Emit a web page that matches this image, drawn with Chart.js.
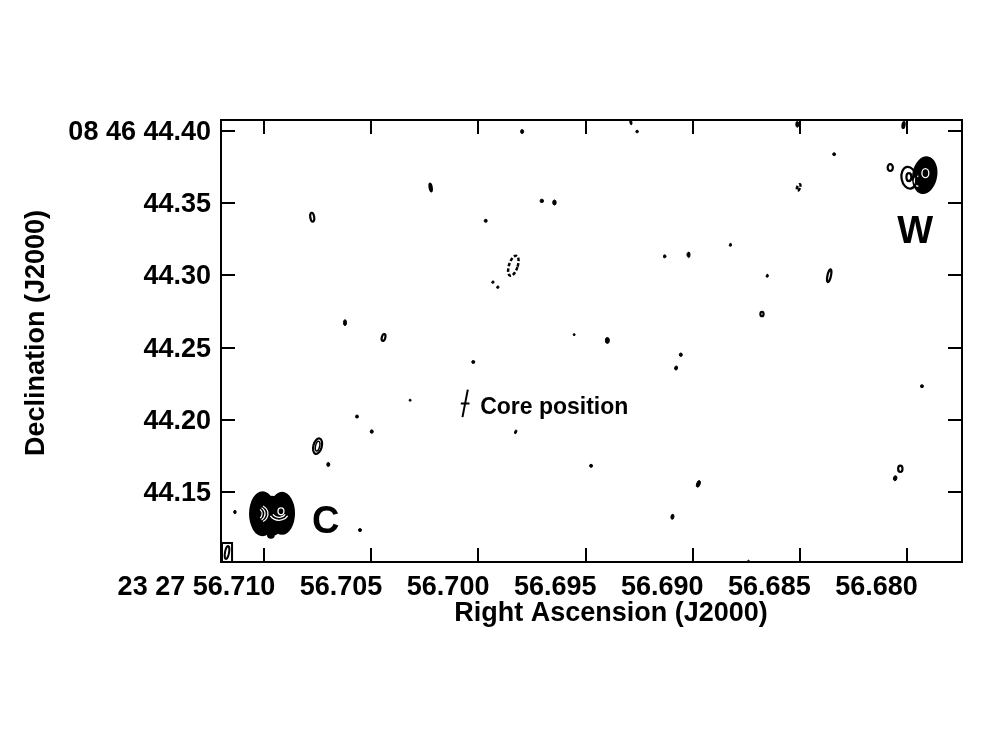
<!DOCTYPE html>
<html>
<head>
<meta charset="utf-8">
<script src="https://cdn.jsdelivr.net/npm/chart.js@4.4.1/dist/chart.umd.min.js"></script>
<style>
  html, body { margin: 0; padding: 0; background: #fff; }
  canvas { display: block; }
</style>
</head>
<body>
<canvas id="map" width="981" height="736"></canvas>
<script>
// axis ticks (RA in seconds of time after 23h27m, Dec in arcsec after +08d46m)
const raTicks = [56.710, 56.705, 56.700, 56.695, 56.690, 56.685, 56.680];
const raTickLabels = ['23 27 56.710', '56.705', '56.700', '56.695', '56.690', '56.685', '56.680'];
const decTicks = [44.15, 44.20, 44.25, 44.30, 44.35, 44.40];
const decTickLabels = ['44.15', '44.20', '44.25', '44.30', '44.35', '08 46 44.40'];
const raRange = [56.67742, 56.71202];
const decRange = [44.1016, 44.4076];

// weak compact features: position, size (mas, major/minor), PA (deg), kind
const featRA  = [56.69288, 56.69259, 56.69796, 56.68511, 56.68015, 56.68339, 56.68077, 56.70223,
                 56.69704, 56.69645, 56.70776, 56.69966, 56.68505, 56.68824, 56.69131, 56.69019,
                 56.69837, 56.69933, 56.69910, 56.68652, 56.68362, 56.68676, 56.70623, 56.70443,
                 56.69553, 56.69398, 56.69055, 56.69077, 56.70024, 56.70319, 56.70567, 56.70498,
                 56.69826, 56.70751, 56.70701, 56.69474, 56.67929, 56.68030, 56.68054, 56.68973,
                 56.69094, 56.68739, 56.71137, 56.70553, 56.67990, 56.67990];
const featDec = [44.4060, 44.3996, 44.3996, 44.4046, 44.4041, 44.3839, 44.3747, 44.3609,
                 44.3516, 44.3505, 44.3403, 44.3378, 44.3609, 44.3212, 44.3132, 44.3143,
                 44.3067, 44.2954, 44.2919, 44.2998, 44.2998, 44.2733, 44.2673, 44.2570,
                 44.2590, 44.2550, 44.2451, 44.2359, 44.2401, 44.2136, 44.2023, 44.1919,
                 44.1917, 44.1818, 44.1691, 44.1682, 44.2233, 44.1661, 44.1596, 44.1557,
                 44.1329, 44.1018, 44.1362, 44.1237, 44.3676, 44.3680];
const featMaj = [3.5, 1.8, 2.8, 4.1, 5.5, 2.0, 6.2, 6.9,
                 2.4, 3.5, 7.6, 2.1, 6.2, 2.1, 2.1, 4.1,
                 15.8, 1.8, 1.8, 2.1, 10.4, 4.5, 4.1, 6.2,
                 1.4, 4.1, 2.4, 2.8, 2.1, 1.4, 2.1, 2.4,
                 2.8, 12.4, 2.8, 2.1, 2.1, 5.8, 3.5, 4.8,
                 3.5, 2.1, 2.4, 2.1, 16.6, 6.9];
const featMin = [1.4, 1.8, 2.1, 2.1, 2.8, 2.0, 5.0, 2.8,
                 2.4, 2.4, 4.1, 2.1, 3.4, 1.8, 2.1, 2.1,
                 7.4, 1.8, 1.8, 1.8, 3.8, 3.6, 2.1, 3.8,
                 1.4, 2.8, 2.1, 2.1, 2.1, 1.4, 2.1, 2.1,
                 1.4, 7.2, 2.1, 2.1, 2.1, 4.4, 2.4, 2.4,
                 2.1, 1.4, 1.7, 2.1, 11.6, 4.8];
const featPA  = [10, 0, 0, 0, -10, 0, 0, 10,
                 0, 0, 10, 0, -20, 0, 0, 0,
                 -18, 0, 0, 0, -12, 0, 0, -15,
                 0, 0, 0, -15, 0, 0, 0, 0,
                 -20, -15, 0, 0, 0, 0, -15, -20,
                 -10, 0, 0, 0, 10, 0];
const featKind = ['dot', 'dot', 'dot', 'dot', 'ring', 'dot', 'ring', 'ring',
                  'dot', 'dot', 'ring', 'dot', 'dash', 'dot', 'dot', 'dot',
                  'dash', 'dot', 'dot', 'dot', 'ring', 'ring', 'dot', 'ring',
                  'dot', 'dot', 'dot', 'dot', 'dot', 'dot', 'dot', 'dot',
                  'dot', 'ring2', 'dot', 'dot', 'dot', 'ring', 'dot', 'dot',
                  'dot', 'dot', 'dot', 'dot', 'ring', 'ring'];

// bright components C and W (solid contour stacks)
const compRA  = [56.71008, 56.70917, 56.70964, 56.70969, 56.67916];
const compDec = [44.1350, 44.1353, 44.1336, 44.1205, 44.3694];
const compMaj = [31.1, 29.7, 27.7, 5.5, 26.3];
const compMin = [18.7, 18.0, 19.4, 5.5, 17.3];
const compPA  = [0, 0, 0, 0, -10];

// gaps between the highest contour levels inside C and W
const gapRA   = [56.71029, 56.71029, 56.71029, 56.70922, 56.70931, 56.70931, 56.67913, 56.67946];
const gapDec  = [44.1350, 44.1350, 44.1350, 44.1367, 44.1367, 44.1367, 44.3708, 44.3652];
const gapMaj  = [6.9, 9.7, 12.4, 4.8, 8.3, 12.4, 6.2, 6.9];
const gapMin  = [5.5, 9.7, 13.8, 4.1, 9.7, 13.8, 4.8, 5.5];
const gapFrom = [-60, -60, -60, 0, 30, 30, 0, 90];
const gapTo   = [60, 60, 60, 360, 150, 150, 360, 270];

// core position with error bar (mas) and labels
const coreRA = 56.70062, coreDec = 44.2114, coreErrDec = 9.7, coreErrRA = 3.0, corePA = -11;
const labelText = ['C', 'W', 'Core position'];
const labelRA   = [56.70777, 56.68044, 56.69992];
const labelDec  = [44.1219, 44.3224, 44.2041];
const labelSize = [38, 38, 23];

// restoring beam (mas)
const beamMaj = 9.7, beamMin = 2.8, beamPA = -10;

const FONT = "'Liberation Sans', Arial, Helvetica, sans-serif";

function ellipsePath(ctx, cx, cy, rx, ry, pa, a0, a1) {
  ctx.ellipse(cx, cy, Math.max(rx, 0.5), Math.max(ry, 0.5), -pa * Math.PI / 180,
              (a0 || 0) * Math.PI / 180, (a1 === undefined ? 360 : a1) * Math.PI / 180);
}

const contourPlugin = {
  id: 'contours',
  afterDatasetsDraw(chart) {
    const { ctx, chartArea: a, scales: { x, y } } = chart;
    const mas = Math.abs(y.getPixelForValue(44.2) - y.getPixelForValue(44.201));
    ctx.save();
    ctx.beginPath();
    ctx.rect(a.left, a.top, a.right - a.left, a.bottom - a.top);
    ctx.clip();

    // solid components
    const cm = chart.getDatasetMeta(1).data;
    ctx.fillStyle = '#000';
    ctx.beginPath();
    cm.forEach((p, i) => {
      ctx.moveTo(p.x + 1, p.y);
      ellipsePath(ctx, p.x, p.y, compMin[i] * mas / 2, compMaj[i] * mas / 2, compPA[i]);
    });
    ctx.fill();

    // white gaps between inner levels
    const gm = chart.getDatasetMeta(2).data;
    ctx.strokeStyle = '#fff';
    ctx.lineWidth = 1.3;
    gm.forEach((p, i) => {
      ctx.beginPath();
      ellipsePath(ctx, p.x, p.y, gapMin[i] * mas / 2, gapMaj[i] * mas / 2, 0, gapFrom[i], gapTo[i]);
      ctx.stroke();
    });

    // weak features
    const fm = chart.getDatasetMeta(0).data;
    ctx.strokeStyle = '#000';
    ctx.fillStyle = '#000';
    fm.forEach((p, i) => {
      const rx = featMin[i] * mas / 2, ry = featMaj[i] * mas / 2, k = featKind[i];
      ctx.beginPath();
      if (k === 'dot') {
        ctx.lineWidth = 1;
        ellipsePath(ctx, p.x, p.y, rx, ry, featPA[i]);
        ctx.fill();
        ctx.stroke();
        return;
      }
      ctx.lineWidth = k === 'dash' ? 2.5 : 2.2;
      ctx.setLineDash(k === 'dash' ? [3.5, 2] : []);
      ellipsePath(ctx, p.x, p.y, rx - 1, ry - 1, featPA[i]);
      ctx.stroke();
      if (k === 'ring2') {
        ctx.beginPath();
        ctx.lineWidth = 1.5;
        ellipsePath(ctx, p.x, p.y, rx * 0.4, ry * 0.55, featPA[i]);
        ctx.stroke();
      }
    });
    ctx.setLineDash([]);

    // core position error bar
    const cx = x.getPixelForValue(coreRA), cy = y.getPixelForValue(coreDec);
    const t = -corePA * Math.PI / 180, L = coreErrDec * mas, W = coreErrRA * mas;
    ctx.lineWidth = 2;
    ctx.beginPath();
    ctx.moveTo(cx - Math.sin(t) * L, cy + Math.cos(t) * L);
    ctx.lineTo(cx + Math.sin(t) * L, cy - Math.cos(t) * L);
    ctx.moveTo(cx - W, cy);
    ctx.lineTo(cx + W, cy);
    ctx.stroke();

    // beam in lower left corner
    const bw = beamMin * mas + 6, bh = beamMaj * mas + 5;
    ctx.lineWidth = 2;
    ctx.strokeRect(a.left + 1, a.bottom - bh, bw, bh);
    ctx.beginPath();
    ellipsePath(ctx, a.left + 1 + bw / 2, a.bottom - bh / 2, beamMin * mas / 2, beamMaj * mas / 2 - 0.5, beamPA);
    ctx.stroke();

    // labels
    ctx.fillStyle = '#000';
    ctx.textBaseline = 'alphabetic';
    ctx.textAlign = 'left';
    labelText.forEach((s, i) => {
      ctx.font = 'bold ' + labelSize[i] + 'px ' + FONT;
      ctx.fillText(s, x.getPixelForValue(labelRA[i]), y.getPixelForValue(labelDec[i]));
    });
    ctx.restore();
  },
  afterDraw(chart) {
    const { ctx, chartArea: a, scales: { x, y } } = chart;
    ctx.save();
    ctx.strokeStyle = '#000';
    ctx.lineWidth = 2;
    ctx.strokeRect(a.left, a.top, a.right - a.left, a.bottom - a.top);
    ctx.beginPath();
    raTicks.forEach(v => {
      const px = Math.round(x.getPixelForValue(v));
      ctx.moveTo(px, a.bottom); ctx.lineTo(px, a.bottom - 14);
      ctx.moveTo(px, a.top); ctx.lineTo(px, a.top + 14);
    });
    decTicks.forEach(v => {
      const py = Math.round(y.getPixelForValue(v));
      ctx.moveTo(a.left, py); ctx.lineTo(a.left + 14, py);
      ctx.moveTo(a.right, py); ctx.lineTo(a.right - 14, py);
    });
    ctx.stroke();

    ctx.fillStyle = '#000';
    ctx.font = 'bold 27px ' + FONT;
    ctx.textAlign = 'center';
    ctx.textBaseline = 'alphabetic';
    ctx.fillText('Right Ascension (J2000)', 611, 621);
    ctx.translate(44, 333);
    ctx.rotate(-Math.PI / 2);
    ctx.fillText('Declination (J2000)', 0, 0);
    ctx.restore();
  }
};

function tickLabel(list, labels) {
  return v => {
    const i = list.findIndex(t => Math.abs(t - v) < 1e-7);
    return i < 0 ? '' : labels[i];
  };
}

new Chart(document.getElementById('map'), {
  type: 'scatter',
  data: {
    datasets: [
      { label: 'weak features', data: featRA.map((r, i) => ({ x: r, y: featDec[i] })), pointRadius: 0 },
      { label: 'bright components', data: compRA.map((r, i) => ({ x: r, y: compDec[i] })), pointRadius: 0 },
      { label: 'inner levels', data: gapRA.map((r, i) => ({ x: r, y: gapDec[i] })), pointRadius: 0 }
    ]
  },
  options: {
    responsive: false,
    animation: false,
    layout: { padding: { top: 120, right: 19, left: 0, bottom: 0 } },
    plugins: { legend: { display: false }, tooltip: { enabled: false } },
    scales: {
      x: {
        type: 'linear',
        reverse: true,
        min: raRange[0],
        max: raRange[1],
        afterBuildTicks: s => { s.ticks = raTicks.map(v => ({ value: v })); },
        afterFit: s => { s.height = 174; },
        grid: { display: false, drawTicks: false },
        border: { display: false },
        ticks: {
          autoSkip: false, maxRotation: 0, align: 'end', labelOffset: 11, padding: 9,
          color: '#000', font: { family: FONT, size: 27, weight: 'bold' },
          callback: tickLabel(raTicks, raTickLabels)
        }
      },
      y: {
        type: 'linear',
        min: decRange[0],
        max: decRange[1],
        afterBuildTicks: s => { s.ticks = decTicks.map(v => ({ value: v })); },
        afterFit: s => { s.width = 221; },
        grid: { display: false, drawTicks: false },
        border: { display: false },
        ticks: {
          autoSkip: false, padding: 10, labelOffset: 1.5,
          color: '#000', font: { family: FONT, size: 27, weight: 'bold' },
          callback: tickLabel(decTicks, decTickLabels)
        }
      }
    }
  },
  plugins: [contourPlugin]
});
</script>
</body>
</html>
